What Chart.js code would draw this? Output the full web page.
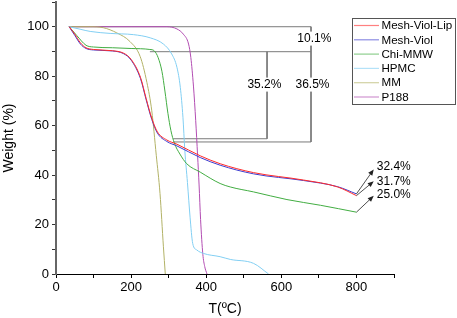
<!DOCTYPE html>
<html>
<head>
<meta charset="utf-8">
<script src="https://cdn.jsdelivr.net/npm/chart.js@4.4.1/dist/chart.umd.min.js"></script>
<style>
  html, body { margin: 0; padding: 0; background: #fff; }
  #wrap { width: 457px; height: 318px; position: relative; }
</style>
</head>
<body>
<div id="wrap"><canvas id="tgaChart"></canvas></div>
<script>
// series names and colours
const seriesNames = ['Mesh-Viol-Lip', 'Mesh-Viol', 'Chi-MMW', 'HPMC', 'MM', 'P188'];
const seriesColors = ['#ff2b2b', '#3d3dcf', '#42ad42', '#82cff3', '#b2b266', '#b24cb2'];

// TGA curves: temperature (ºC) / weight (%)
const lipT = [35, 50, 65, 80, 100, 150, 180, 200, 225, 240, 255, 270, 295, 322, 384, 437, 526, 659, 750, 800];
const lipW = [100, 97, 93.5, 91.5, 90.8, 90.3, 89.3, 86.8, 79.5, 71, 63, 57.5, 54.2, 52.5, 47.8, 44.6, 41, 38, 35.2, 31.7];
const violT = [35, 50, 65, 80, 100, 150, 180, 200, 225, 240, 255, 270, 295, 322, 384, 437, 526, 659, 750, 800];
const violW = [100, 96.5, 93, 91.2, 90.6, 90.2, 89.1, 86.5, 79, 70.5, 62.5, 57, 53.6, 51.8, 47.1, 44, 40.5, 37.8, 35.3, 32.4];
const chiT = [35, 55, 80, 100, 150, 200, 250, 262, 272, 282, 290, 298, 306, 315, 330, 348, 384, 437, 464, 526, 615, 704, 800];
const chiW = [100, 96.5, 92.5, 91.8, 91.5, 91.2, 90.8, 90.2, 87.5, 82, 74, 65, 58, 53, 48.5, 44.6, 41.2, 36.6, 35.2, 33.2, 30.1, 27.8, 25.0];
const hpmcT = [35, 64, 91, 144, 206, 251, 286, 308, 322, 331, 338, 343, 350, 357, 364, 375, 393, 437, 464, 526, 566];
const hpmcW = [100, 99, 98.1, 97.3, 96.8, 95.5, 93, 89, 83.6, 75.5, 63.4, 50, 37, 23, 12.4, 9.7, 8.3, 7, 5.9, 4.3, 0];
const mmT = [35, 90, 126, 162, 197, 224, 242, 255, 267, 277, 286, 291];
const mmW = [100, 100, 99.6, 97.5, 94, 88, 77.5, 66, 48, 32.5, 11, 0];
const p188T = [35, 200, 295, 322, 339, 353, 359, 366, 372, 377, 381, 385, 391, 396, 402];
const p188W = [100, 100, 100, 99.1, 97, 93, 87.6, 76, 62, 48, 36, 22, 8, 3, 0];

// weight-loss brackets (grey)
const bracketAT = [35, 679, 679, 312];
const bracketAW = [100, 100, 53.4, 53.4];
const bracketBT = [250, 679];
const bracketBW = [89.9, 89.9];
const bracketCT = [562, 562, 312];
const bracketCW = [89.9, 54.7, 54.7];

// bracket labels
const lossLabels = ['10.1%', '35.2%', '36.5%'];
const lossT = [688, 555, 683];
const lossW = [95.2, 76.6, 76.6];

// residue labels + arrows
const residueLabels = ['32.4%', '31.7%', '25.0%'];
const residueTextT = 854;
const residueTextW = [43.5, 37.5, 32.1];
const arrowFromW = [32.4, 31.7, 25.0];
const arrowToW = [42.3, 37.5, 31.6];
const arrowFromT = 800;
const arrowToT = 846;

// axes
const xMin = 0, xMax = 900, xStep = 100;
const yMin = 0, yMax = 110, yStep = 10;

function toPoints(xs, ys) {
  return xs.map((x, i) => ({ x: x, y: ys[i] }));
}

const curveT = [lipT, violT, chiT, hpmcT, mmT, p188T];
const curveW = [lipW, violW, chiW, hpmcW, mmW, p188W];

const datasets = seriesNames.map((name, i) => ({
  label: name,
  data: toPoints(curveT[i], curveW[i]),
  showLine: true,
  borderColor: seriesColors[i],
  borderWidth: 1,
  pointRadius: 0,
  cubicInterpolationMode: 'monotone'
}));

[[bracketAT, bracketAW], [bracketBT, bracketBW], [bracketCT, bracketCW]].forEach(b => {
  datasets.push({
    label: '',
    data: toPoints(b[0], b[1]),
    showLine: true,
    borderColor: '#7a7a7a',
    borderWidth: 1,
    pointRadius: 0,
    tension: 0,
    order: 10
  });
});

const FONT = 'Arial, "Liberation Sans", sans-serif';

const annotations = {
  id: 'annotations',
  afterDatasetsDraw(chart) {
    const ctx = chart.ctx;
    const xs = chart.scales.x, ys = chart.scales.y;
    ctx.save();
    ctx.font = '12px ' + FONT;
    ctx.textBaseline = 'middle';
    ctx.textAlign = 'center';

    // bracket percentages with white backing
    lossLabels.forEach((t, i) => {
      const px = xs.getPixelForValue(lossT[i]);
      const py = ys.getPixelForValue(lossW[i]);
      const w = ctx.measureText(t).width;
      ctx.fillStyle = '#fff';
      ctx.fillRect(px - w / 2 - 1, py - 7, w + 2, 14);
      ctx.fillStyle = '#000';
      ctx.fillText(t, px, py);
    });

    // residue arrows
    ctx.strokeStyle = '#222';
    ctx.fillStyle = '#222';
    ctx.lineWidth = 0.8;
    arrowFromW.forEach((w0, i) => {
      const x0 = xs.getPixelForValue(arrowFromT), y0 = ys.getPixelForValue(w0);
      const x1 = xs.getPixelForValue(arrowToT), y1 = ys.getPixelForValue(arrowToW[i]);
      const a = Math.atan2(y1 - y0, x1 - x0);
      ctx.beginPath();
      ctx.moveTo(x0, y0);
      ctx.lineTo(x1 - 4 * Math.cos(a), y1 - 4 * Math.sin(a));
      ctx.stroke();
      ctx.beginPath();
      ctx.moveTo(x1, y1);
      ctx.lineTo(x1 - 6 * Math.cos(a) + 2.5 * Math.sin(a), y1 - 6 * Math.sin(a) - 2.5 * Math.cos(a));
      ctx.lineTo(x1 - 6 * Math.cos(a) - 2.5 * Math.sin(a), y1 - 6 * Math.sin(a) + 2.5 * Math.cos(a));
      ctx.closePath();
      ctx.fill();
    });

    ctx.fillStyle = '#000';
    ctx.textAlign = 'left';
    residueLabels.forEach((t, i) => {
      ctx.fillText(t, xs.getPixelForValue(residueTextT), ys.getPixelForValue(residueTextW[i]));
    });

    // legend box
    const bx = 352.5, by = 18.5, bw = 103, bh = 86;
    ctx.fillStyle = '#fff';
    ctx.fillRect(bx, by, bw, bh);
    ctx.strokeStyle = '#555';
    ctx.lineWidth = 1;
    ctx.strokeRect(bx, by, bw, bh);
    ctx.font = '11.6px ' + FONT;
    seriesNames.forEach((name, i) => {
      const ly = 25.5 + i * 14.3;
      ctx.globalAlpha = 0.6;
      ctx.strokeStyle = seriesColors[i];
      ctx.lineWidth = 1.2;
      ctx.beginPath();
      ctx.moveTo(354, ly);
      ctx.lineTo(379, ly);
      ctx.stroke();
      ctx.globalAlpha = 1;
      ctx.fillStyle = '#000';
      ctx.fillText(name, 381.5, ly + 0.5);
    });
    ctx.restore();
  }
};

new Chart(document.getElementById('tgaChart'), {
  type: 'scatter',
  data: { datasets: datasets },
  options: {
    responsive: true,
    maintainAspectRatio: false,
    animation: false,
    layout: { padding: { top: 2, right: 63, left: 0, bottom: 0 } },
    plugins: {
      legend: { display: false },
      tooltip: { enabled: false }
    },
    scales: {
      x: {
        type: 'linear',
        min: xMin,
        max: xMax,
        afterFit: function(scale) {
          scale.height = 44;
          scale.paddingLeft = 0;
          scale.paddingRight = 0;
        },
        border: { display: true, color: '#000', width: 1 },
        grid: { drawOnChartArea: false, drawTicks: true, tickLength: 4, tickColor: '#000' },
        ticks: {
          stepSize: xStep,
          autoSkip: false,
          maxRotation: 0,
          padding: 2,
          color: '#000',
          font: { family: FONT, size: 13 },
          callback: function(v) { return (v % 200 === 0 && v < 900) ? v : ''; }
        },
        title: {
          display: true,
          text: 'T(ºC)',
          color: '#000',
          font: { family: FONT, size: 14 },
          padding: { top: 0, bottom: 0 }
        }
      },
      y: {
        type: 'linear',
        min: yMin,
        max: yMax,
        afterFit: function(scale) {
          scale.width = 56;
          scale.paddingTop = 0;
          scale.paddingBottom = 0;
        },
        border: { display: true, color: '#666', width: 2 },
        grid: { drawOnChartArea: false, drawTicks: true, tickLength: 4, tickColor: '#333' },
        ticks: {
          stepSize: yStep,
          autoSkip: false,
          padding: 3,
          color: '#000',
          font: { family: FONT, size: 13 },
          callback: function(v) { return (v % 20 === 0 && v <= 100) ? v : ''; }
        },
        title: {
          display: true,
          text: 'Weight (%)',
          color: '#000',
          font: { family: FONT, size: 14 },
          padding: { top: 1, bottom: 0 }
        }
      }
    }
  },
  plugins: [annotations]
});
</script>
</body>
</html>
